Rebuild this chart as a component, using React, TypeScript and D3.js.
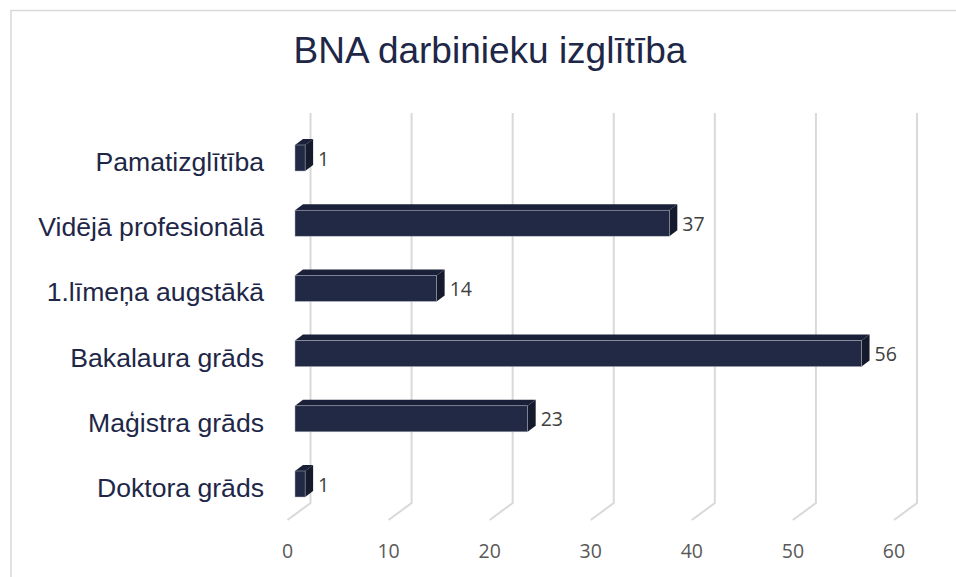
import React from "react";
import * as d3 from "d3";

const categories = [
  "Pamatizglītība",
  "Vidējā profesionālā",
  "1.līmeņa augstākā",
  "Bakalaura grāds",
  "Maģistra grāds",
  "Doktora grāds",
];
const values = [1, 37, 14, 56, 23, 1];
const ticks = [0, 10, 20, 30, 40, 50, 60];

const W = 956;
const H = 577;

// 3d offsets (Excel-like perspective)
const floorDx = -23;
const floorDy = 17;
const depthDx = 8;
const depthDy = -6;
const barH = 26;

const App = () => {
  // back wall x positions
  const xBack = d3.scaleLinear().domain([0, 60]).range([310.5, 917]);
  // bar front faces sit a bit in front of the wall
  const xBar = d3.scaleLinear().domain([0, 60]).range([295, 902]);
  const y = d3.scalePoint().domain(categories).range([125.4, 516.6]).padding(0.5);

  const wallTop = 113;
  const wallBottom = 503;

  return (
    <svg width={W} height={H} style={{ position: "absolute", left: 0, top: 0 }}>
      <rect x={0} y={0} width={W} height={H} fill="#fff" />
      <path d={`M11,${H} V10.5 H${W}`} fill="none" stroke="#d9d9d9" strokeWidth={1.5} />

      <text
        x={490}
        y={63}
        textAnchor="middle"
        fontFamily="'Liberation Sans', Arial, sans-serif"
        fontSize={37}
        fill="#1e2747"
      >
        BNA darbinieku izglītība
      </text>

      {/* gridlines on back wall + floor */}
      {ticks.map((t) => (
        <g key={t}>
          <path
            d={`M${xBack(t)},${wallTop} V${wallBottom} l${floorDx},${floorDy}`}
            fill="none"
            stroke="#d9d9d9"
            strokeWidth={2}
          />
          <text
            x={xBack(t) + floorDx}
            y={550}
            textAnchor="middle"
            dominantBaseline="central"
            fontFamily="'Open Sans', sans-serif"
            fontSize={19.5}
            fill="#595959"
          >
            {t}
          </text>
        </g>
      ))}

      {categories.map((c, i) => {
        const cy = y(c)!;
        const x0 = xBar(0);
        const x1 = xBar(values[i]);
        const top = cy - barH / 2;
        const bot = cy + barH / 2;
        return (
          <g key={c}>
            {/* top face */}
            <path
              d={`M${x0},${top} L${x0 + depthDx},${top + depthDy} L${x1 + depthDx},${top + depthDy} L${x1},${top} Z`}
              fill="#1a2037"
            />
            {/* side face */}
            <path
              d={`M${x1},${top} L${x1 + depthDx},${top + depthDy} L${x1 + depthDx},${bot + depthDy} L${x1},${bot} Z`}
              fill="#151a2c"
            />
            {/* front face */}
            <rect
              x={x0}
              y={top}
              width={x1 - x0}
              height={barH}
              fill="#222944"
              stroke="#aeb3c0"
              strokeWidth={0.5}
            />
            <text
              x={x1 + depthDx + 5}
              y={cy}
              dominantBaseline="central"
              fontFamily="'Open Sans', sans-serif"
              fontSize={19.5}
              fill="#404040"
            >
              {values[i]}
            </text>
            <text
              x={264}
              y={cy + 4}
              textAnchor="end"
              dominantBaseline="central"
              fontFamily="'Liberation Sans', Arial, sans-serif"
              fontSize={26.6}
              fill="#1e2747"
            >
              {c}
            </text>
          </g>
        );
      })}
    </svg>
  );
};

export default App;
